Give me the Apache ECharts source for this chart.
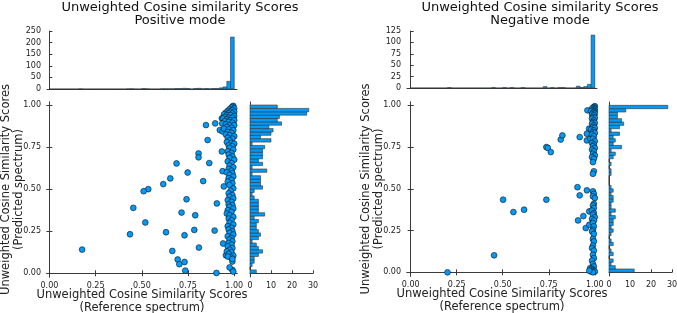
<!DOCTYPE html>
<html>
<head>
<meta charset="utf-8">
<script src="https://cdn.jsdelivr.net/npm/echarts@6/dist/echarts.min.js"></script>
<style>
  html, body { margin: 0; padding: 0; background: #fff; }
  #main { width: 677px; height: 313px; }
</style>
</head>
<body>
<div id="main"></div>
<script>
// 直方图分箱宽度
const binW = 0.02;

// 正离子模式 —— 散点（参考谱, 预测谱）
const posOutliers = [
    [0.847, 0.881], [0.897, 0.891], [0.856, 0.792], [0.807, 0.712], [0.807, 0.689],
    [0.688, 0.653], [0.865, 0.655], [0.933, 0.724], [0.748, 0.599], [0.654, 0.564],
    [0.832, 0.548], [0.937, 0.607], [0.616, 0.530], [0.535, 0.500], [0.510, 0.488],
    [0.742, 0.440], [0.906, 0.415], [0.454, 0.389], [0.519, 0.302], [0.436, 0.232],
    [0.631, 0.244], [0.731, 0.226], [0.784, 0.258], [0.894, 0.254], [0.715, 0.361],
    [0.789, 0.345], [0.177, 0.141], [0.809, 0.153], [0.665, 0.133], [0.694, 0.082],
    [0.703, 0.054], [0.731, 0.067], [0.735, 0.016], [0.904, 0.002], [0.940, 0.177],
    [0.933, 0.921], [0.922, 0.851], [0.955, 0.107], [0.990, 0.070], [0.990, 0.020],
    [0.944, 0.516], [0.937, 0.843]
];
const posCluster = [
    [0.995, 0.995], [0.99, 0.99], [0.985, 0.985], [1.0, 0.98], [0.975, 0.975], [0.99, 0.97],
    [0.965, 0.965], [0.98, 0.96], [1.0, 0.96], [0.955, 0.955], [0.97, 0.95], [0.99, 0.95],
    [0.945, 0.945], [0.96, 0.94], [0.98, 0.94], [1.0, 0.935], [0.95, 0.93], [0.97, 0.925],
    [0.99, 0.925], [0.94, 0.92], [0.96, 0.915], [0.98, 0.91], [1.0, 0.91], [0.95, 0.905],
    [0.97, 0.9], [0.99, 0.895], [0.935, 0.89], [0.955, 0.885], [0.975, 0.88], [1.0, 0.88],
    [0.96, 0.87], [0.985, 0.865], [0.945, 0.86], [0.97, 0.855], [0.995, 0.85],
    [0.965, 0.84], [0.985, 0.835], [0.955, 0.825], [0.975, 0.82], [1.0, 0.815], [0.965, 0.805],
    [0.99, 0.8], [0.975, 0.79], [0.96, 0.78], [0.985, 0.775], [1.0, 0.77], [0.97, 0.76],
    [0.99, 0.755], [0.975, 0.745], [0.995, 0.735], [0.965, 0.725], [0.985, 0.715], [0.97, 0.705],
    [0.99, 0.695], [0.975, 0.685], [1.0, 0.675], [0.965, 0.665], [0.985, 0.655], [0.975, 0.64],
    [0.995, 0.63], [0.97, 0.62], [0.985, 0.61], [0.96, 0.6], [0.99, 0.595], [0.975, 0.585],
    [0.995, 0.575], [0.97, 0.565], [0.985, 0.555], [0.965, 0.545], [0.99, 0.535], [0.975, 0.525],
    [0.995, 0.505], [0.98, 0.49], [0.97, 0.475], [0.99, 0.465], [0.975, 0.455], [0.995, 0.445],
    [0.965, 0.435], [0.985, 0.425], [0.97, 0.41], [0.99, 0.405], [0.975, 0.395], [0.995, 0.385],
    [0.965, 0.375], [0.985, 0.365], [0.96, 0.355], [0.975, 0.345], [0.995, 0.335], [0.97, 0.325],
    [0.985, 0.315], [0.975, 0.3], [0.995, 0.29], [0.965, 0.28], [0.985, 0.27], [0.97, 0.26],
    [0.99, 0.25], [0.975, 0.24], [0.995, 0.23], [0.965, 0.22], [0.985, 0.21], [0.975, 0.2],
    [0.99, 0.19], [0.97, 0.18], [0.985, 0.17], [0.965, 0.16], [0.99, 0.15], [0.975, 0.14],
    [0.96, 0.13], [0.985, 0.125], [0.97, 0.115], [0.995, 0.105], [0.98, 0.095], [0.965, 0.1],
    [0.99, 0.085], [0.975, 0.035], [0.995, 0.01]
];
// 正离子模式 —— 直方图计数（分箱 0.00~0.02, 0.02~0.04, ... 0.98~1.00）
const posRefHist = [
    0, 0, 0, 0, 0, 0, 0, 0, 1, 0, 0, 0, 0, 0, 0, 0, 0, 0, 0, 0, 0, 1, 1, 0, 0,
    2, 1, 0, 0, 0, 1, 1, 1, 1, 2, 2, 3, 2, 0, 2, 3, 1, 2, 1, 2, 2, 5, 9, 33, 224
];
const posPredHist = [
    3, 0, 1, 2, 2, 4, 6, 4, 3, 1, 4, 5, 4, 3, 3, 4, 2, 7, 4, 4, 4, 4, 2, 1, 2,
    6, 5, 5, 5, 1, 8, 1, 6, 4, 6, 6, 6, 7, 1, 10, 5, 10, 11, 9, 15, 13, 14, 27, 28, 13
];

// 负离子模式
const negOutliers = [
    [0.200, 0.000], [0.453, 0.102], [0.502, 0.435], [0.558, 0.361], [0.616, 0.375],
    [0.737, 0.435], [0.737, 0.750], [0.745, 0.745], [0.761, 0.720], [0.815, 0.795],
    [0.824, 0.820], [0.918, 0.810], [0.906, 0.510], [0.918, 0.461], [0.909, 0.311],
    [0.938, 0.337], [0.951, 0.265], [0.957, 0.491], [0.970, 0.365], [0.960, 0.970],
    [0.969, 0.860], [0.957, 0.830], [0.957, 0.790], [0.975, 0.800], [0.970, 0.285]
];
const negCluster = [
    [1.0, 0.995], [0.995, 0.99], [0.99, 0.985], [1.0, 0.98], [0.985, 0.98], [0.995, 0.975],
    [0.99, 0.97], [1.0, 0.965], [0.98, 0.965], [0.995, 0.96], [0.99, 0.955], [1.0, 0.95],
    [0.985, 0.945], [0.995, 0.94], [0.99, 0.93], [1.0, 0.925], [0.985, 0.92], [0.995, 0.91],
    [0.99, 0.9], [1.0, 0.895], [0.985, 0.89], [0.995, 0.88], [0.99, 0.87], [1.0, 0.865],
    [0.98, 0.855], [0.995, 0.85], [0.99, 0.84], [1.0, 0.835], [0.985, 0.825], [0.995, 0.815],
    [0.99, 0.8], [1.0, 0.785], [0.985, 0.775], [0.995, 0.765], [0.99, 0.755], [1.0, 0.745],
    [0.985, 0.735], [0.995, 0.725], [0.99, 0.71], [1.0, 0.7], [0.985, 0.69], [0.995, 0.68],
    [0.99, 0.66], [0.995, 0.605], [0.99, 0.59],
    [0.99, 0.485], [0.995, 0.47], [0.99, 0.455], [1.0, 0.445], [0.995, 0.41], [0.99, 0.4],
    [0.995, 0.385], [0.985, 0.37], [0.995, 0.355], [0.99, 0.345], [1.0, 0.33], [0.985, 0.32],
    [0.995, 0.31], [0.99, 0.295], [0.995, 0.275], [0.99, 0.255], [0.985, 0.245], [0.995, 0.23],
    [0.99, 0.2], [0.995, 0.185], [0.99, 0.16], [0.985, 0.145], [0.995, 0.13], [0.99, 0.105],
    [0.995, 0.085], [0.985, 0.07], [0.99, 0.05], [0.995, 0.035], [0.975, 0.025], [0.985, 0.02],
    [0.99, 0.015], [0.995, 0.01], [1.0, 0.005], [0.98, 0.005], [0.99, 0.0], [0.97, 0.01]
];
const negRefHist = [
    0, 0, 0, 0, 0, 0, 0, 0, 0, 0, 1, 0, 0, 0, 0, 0, 0, 0, 0, 0, 0, 0, 1, 0, 0,
    1, 0, 1, 0, 0, 1, 0, 0, 0, 0, 0, 3, 0, 1, 0, 1, 1, 0, 0, 0, 4, 1, 3, 8, 116
];
const negPredHist = [
    12, 3, 1, 2, 0, 2, 1, 0, 2, 1, 0, 1, 2, 1, 2, 2, 3, 1, 3, 1, 1, 2, 2, 1, 2,
    1, 0, 0, 0, 1, 1, 0, 1, 0, 2, 3, 1, 6, 2, 3, 2, 5, 1, 5, 7, 6, 4, 4, 8, 28
];

// 刻度
const scoreTicks = [0, 0.25, 0.5, 0.75, 1];

const FONT = 'DejaVu Sans';
const BLUE = '#009afa';
const AXIS = '#3a3a3a';
const TEXT = '#222';

function histItems(counts) {
    return counts.map(function (c, i) { return [i * binW, (i + 1) * binW, c]; });
}

// 竖直直方图（顶部）
function renderVertical(params, api) {
    let a = api.coord([api.value(0), 0]);
    let b = api.coord([api.value(1), api.value(2)]);
    return {
        type: 'rect',
        shape: { x: a[0], y: b[1], width: b[0] - a[0], height: a[1] - b[1] },
        style: { fill: BLUE, stroke: '#333', lineWidth: 0.6 }
    };
}
// 水平直方图（右侧）
function renderHorizontal(params, api) {
    let a = api.coord([0, api.value(0)]);
    let b = api.coord([api.value(2), api.value(1)]);
    return {
        type: 'rect',
        shape: { x: a[0], y: b[1], width: b[0] - a[0], height: a[1] - b[1] },
        style: { fill: BLUE, stroke: '#333', lineWidth: 0.6 }
    };
}

let line = { show: true, lineStyle: { color: AXIS, width: 1 } };
let noTick = { show: false };
let inTick = { show: true, inside: true, length: 3, lineStyle: { color: AXIS } };
let tickLabel = { fontFamily: FONT, fontSize: 8, color: TEXT, margin: 6 };

function panel(p) {
    // p: 面板布局与数据
    let g = p.gridStart;
    let grids = [
        { left: p.left, top: 31, width: 190, height: p.topH, outerBoundsMode: 'none' },
        { left: p.left, top: 102, width: 190, height: p.scH, outerBoundsMode: 'none' },
        { left: p.histLeft, top: 102, width: 63, height: p.scH, outerBoundsMode: 'none' }
    ];
    let xAxes = [
        { type: 'value', gridIndex: g, min: p.xMin, max: p.xMax, axisLine: line,
          axisTick: noTick, axisLabel: { show: false }, splitLine: { show: false } },
        { type: 'value', gridIndex: g + 1, min: p.xMin, max: p.xMax, axisLine: line,
          axisTick: Object.assign({ customValues: scoreTicks }, inTick),
          axisLabel: Object.assign({ customValues: scoreTicks, formatter: function (v) { return v.toFixed(2); } }, tickLabel, { margin: 5 }),
          splitLine: { show: false },
          name: 'Unweighted Cosine Similarity Scores\n(Reference spectrum)',
          nameLocation: 'middle', nameGap: 12, nameMoveOverlap: false,
          nameTextStyle: { fontFamily: FONT, fontSize: 11.5, lineHeight: 12.5, color: TEXT } },
        { type: 'value', gridIndex: g + 1, position: 'top', min: p.xMin, max: p.xMax, axisLine: line,
          axisTick: Object.assign({ customValues: scoreTicks }, inTick),
          axisLabel: { show: false }, splitLine: { show: false } },
        { type: 'value', gridIndex: g + 2, min: 0, max: 30, interval: 10, axisLine: line,
          axisTick: inTick, axisLabel: Object.assign({}, tickLabel, { margin: 5 }), splitLine: { show: false } }
    ];
    let yAxes = [
        { type: 'value', gridIndex: g, min: 0, max: p.topMax, interval: p.topStep, axisLine: line,
          axisTick: inTick, axisLabel: tickLabel, splitLine: { show: false } },
        { type: 'value', gridIndex: g + 1, min: p.yMin, max: p.yMax, axisLine: line,
          axisTick: Object.assign({ customValues: scoreTicks }, inTick),
          axisLabel: Object.assign({ customValues: scoreTicks, formatter: function (v) { return v.toFixed(2); } }, tickLabel),
          splitLine: { show: false },
          name: 'Unweighted Cosine Similarity Scores\n(Predicted spectrum)',
          nameLocation: 'middle', nameGap: 22, nameRotate: 90, nameMoveOverlap: false,
          nameTextStyle: { fontFamily: FONT, fontSize: 11.5, lineHeight: 12.5, color: TEXT } },
        { type: 'value', gridIndex: g + 1, position: 'right', min: p.yMin, max: p.yMax, axisLine: line,
          axisTick: Object.assign({ customValues: scoreTicks }, inTick),
          axisLabel: { show: false }, splitLine: { show: false } },
        { type: 'value', gridIndex: g + 2, min: p.yMin, max: p.yMax, axisLine: line,
          axisTick: noTick, axisLabel: { show: false }, splitLine: { show: false } }
    ];
    let xi = p.axisStart, yi = p.axisStart;
    let series = [
        { type: 'custom', xAxisIndex: xi, yAxisIndex: yi, renderItem: renderVertical,
          data: histItems(p.refHist), silent: true },
        { type: 'scatter', xAxisIndex: xi + 1, yAxisIndex: yi + 1, symbolSize: 5.8,
          itemStyle: { color: BLUE, borderColor: '#111', borderWidth: 0.6, opacity: 1 },
          data: p.outliers.concat(p.cluster), silent: true },
        { type: 'custom', xAxisIndex: xi + 3, yAxisIndex: yi + 3, renderItem: renderHorizontal,
          data: histItems(p.predHist), silent: true }
    ];
    return { grids: grids, xAxes: xAxes, yAxes: yAxes, series: series };
}

let left = panel({
    gridStart: 0, axisStart: 0, left: 47, histLeft: 250, topH: 58, scH: 175,
    xMin: -0.013, xMax: 1.015, yMin: -0.022, yMax: 1.018, topMax: 250, topStep: 50,
    outliers: posOutliers, cluster: posCluster, refHist: posRefHist, predHist: posPredHist
});
let right = panel({
    gridStart: 3, axisStart: 4, left: 407, histLeft: 609, topH: 57, scH: 174,
    xMin: -0.02, xMax: 1.012, yMin: -0.022, yMax: 1.02, topMax: 125, topStep: 25,
    outliers: negOutliers, cluster: negCluster, refHist: negRefHist, predHist: negPredHist
});

let titleStyle = { fontFamily: FONT, fontSize: 13, fontWeight: 'normal', color: '#111', lineHeight: 13 };

let myChart = echarts.init(document.getElementById('main'), null, { renderer: 'canvas' });
let option = {
    animation: false,
    backgroundColor: '#fff',
    title: [
        { text: 'Unweighted Cosine similarity Scores\nPositive mode', left: 180, top: 1, padding: 0,
          textAlign: 'center', textStyle: titleStyle },
        { text: 'Unweighted Cosine similarity Scores\nNegative mode', left: 540, top: 1, padding: 0,
          textAlign: 'center', textStyle: titleStyle }
    ],
    grid: left.grids.concat(right.grids),
    xAxis: left.xAxes.concat(right.xAxes),
    yAxis: left.yAxes.concat(right.yAxes),
    series: left.series.concat(right.series)
};
myChart.setOption(option);
</script>
</body>
</html>
